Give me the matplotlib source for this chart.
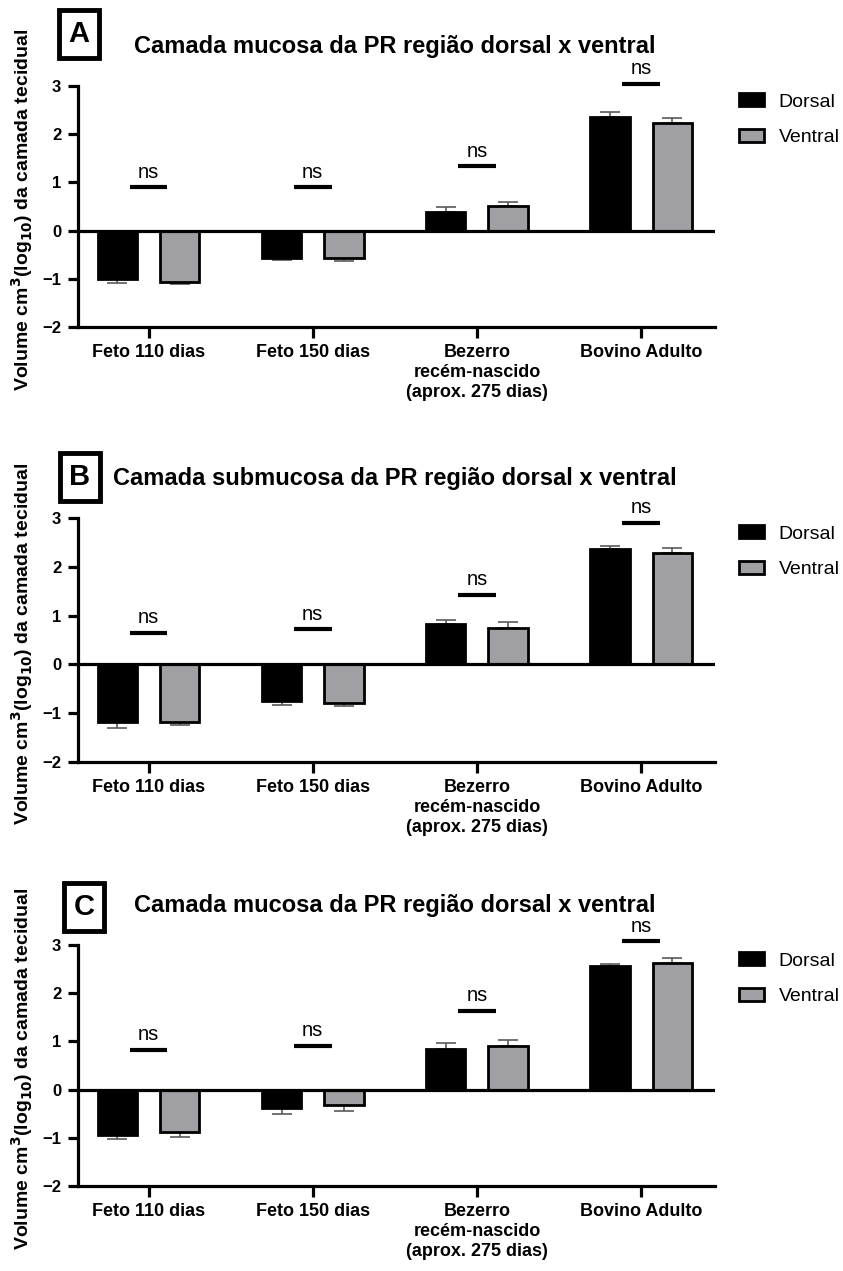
import matplotlib.pyplot as plt
import numpy as np

plt.rcParams['font.family'] = ['Liberation Sans', 'DejaVu Sans']

categorias = ['Feto 110 dias', 'Feto 150 dias', 'Bezerro\nrecém-nascido\n(aprox. 275 dias)', 'Bovino Adulto']
series = ['Dorsal', 'Ventral']
letras = ['A', 'B', 'C']
titulos = ['Camada mucosa da PR região dorsal x ventral',
           'Camada submucosa da PR região dorsal x ventral',
           'Camada mucosa da PR região dorsal x ventral']

# medias e erros (log10 do volume)
dorsal_A = [-1.01, -0.57, 0.38, 2.35]
dorsal_A_err = [0.07, 0.03, 0.11, 0.11]
ventral_A = [-1.06, -0.56, 0.50, 2.24]
ventral_A_err = [0.05, 0.08, 0.10, 0.10]
ns_A = [0.90, 0.90, 1.33, 3.05]

dorsal_B = [-1.19, -0.75, 0.82, 2.37]
dorsal_B_err = [0.11, 0.08, 0.10, 0.06]
ventral_B = [-1.19, -0.79, 0.75, 2.28]
ventral_B_err = [0.05, 0.06, 0.11, 0.10]
ns_B = [0.65, 0.72, 1.42, 2.90]

dorsal_C = [-0.95, -0.38, 0.85, 2.57]
dorsal_C_err = [0.07, 0.13, 0.11, 0.04]
ventral_C = [-0.89, -0.32, 0.90, 2.62]
ventral_C_err = [0.10, 0.12, 0.12, 0.10]
ns_C = [0.82, 0.91, 1.64, 3.08]

paineis = [
    (dorsal_A, dorsal_A_err, ventral_A, ventral_A_err, ns_A),
    (dorsal_B, dorsal_B_err, ventral_B, ventral_B_err, ns_B),
    (dorsal_C, dorsal_C_err, ventral_C, ventral_C_err, ns_C),
]

W, H = 843, 1271
fig = plt.figure(figsize=(W / 100, H / 100), dpi=100)

# posicoes em pixels: (topo y=3, base y=-2), caixa da letra, base do titulo
topos = [86, 518, 945]
bases = [327, 762, 1186]
caixas = [(79, 34), (80, 477), (84, 907)]
linha_titulo = [53, 485, 912]

cores = ['black', '#a0a0a4']
x = np.arange(len(categorias))
larg = 0.24
desl = 0.19

for k, (d, de, v, ve, ns) in enumerate(paineis):
    ax = fig.add_axes([78 / W, 1 - bases[k] / H, (715 - 78) / W, (bases[k] - topos[k]) / H])
    for j, (vals, errs) in enumerate([(d, de), (v, ve)]):
        pos = x + (-desl if j == 0 else desl)
        ax.bar(pos, vals, width=larg, color=cores[j], edgecolor='black', linewidth=2,
               label=series[j], zorder=2)
        vals = np.array(vals)
        errs = np.array(errs)
        baixo = np.where(vals < 0, errs, 0)
        cima = np.where(vals >= 0, errs, 0)
        ax.errorbar(pos, vals, yerr=[baixo, cima], fmt='none', ecolor='#5a5a5a',
                    elinewidth=1.2, capsize=7, capthick=1.2, zorder=1)
    for i in range(len(categorias)):
        ax.plot([x[i] - 0.115, x[i] + 0.115], [ns[i], ns[i]], color='black', lw=3,
                solid_capstyle='butt', clip_on=False)
        ax.text(x[i], ns[i] + 0.2, 'ns', ha='center', va='baseline', fontsize=14.5,
                clip_on=False)

    ax.axhline(0, color='black', lw=2.3, zorder=3)
    ax.set_xlim(-0.43, 3.45)
    ax.set_ylim(-2, 3)
    ax.set_yticks([-2, -1, 0, 1, 2, 3])
    ax.set_xticks(x)
    ax.set_xticklabels(categorias, fontweight='bold', fontsize=13, linespacing=1.25)
    for t in ax.get_yticklabels():
        t.set_fontweight('bold')
        t.set_fontsize(12)
    ax.tick_params(axis='x', length=8, width=2.3, pad=4)
    ax.tick_params(axis='y', length=7, width=2.3, pad=5)
    ax.spines['top'].set_visible(False)
    ax.spines['right'].set_visible(False)
    ax.spines['left'].set_linewidth(2.3)
    ax.spines['bottom'].set_linewidth(2.3)

    ax.legend(loc='upper left', bbox_to_anchor=(1.037, 0.97), frameon=False, fontsize=14,
              handlelength=1.3, handleheight=0.65, handletextpad=0.75, labelspacing=0.95,
              borderpad=0, borderaxespad=0)

    fig.text(22 / W, 1 - (topos[k] + bases[k]) / 2 / H - 0.003,
             'Volume cm$^\\mathbf{3}$(log$_\\mathbf{10}$) da camada tecidual',
             rotation=90, ha='center', va='center', fontsize=14, fontweight='bold')
    fig.text(395 / W, 1 - linha_titulo[k] / H, titulos[k], ha='center', va='baseline',
             fontsize=17, fontweight='bold')
    fig.text(caixas[k][0] / W, 1 - caixas[k][1] / H, letras[k], ha='center', va='center',
             fontsize=21, fontweight='bold',
             bbox=dict(boxstyle='square,pad=0.34', fc='white', ec='black', lw=3.5))

fig.savefig('out.png', dpi=100)
